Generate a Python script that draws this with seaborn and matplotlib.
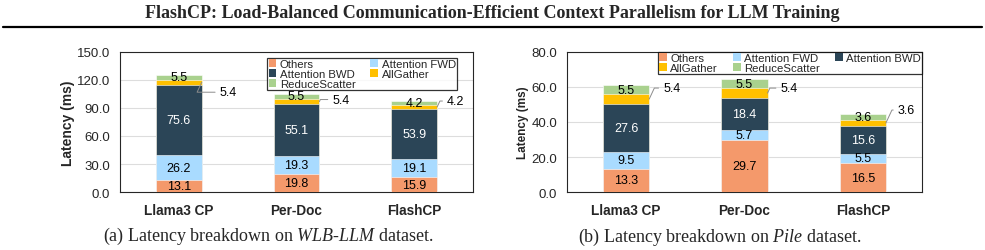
import numpy as np
import pandas as pd
import matplotlib
matplotlib.use("Agg")
import matplotlib.pyplot as plt
import seaborn as sns
from matplotlib.patches import Patch

# ---- data ----
methods = ["Llama3 CP", "Per-Doc", "FlashCP"]
components = ["Others", "Attention FWD", "Attention BWD", "AllGather", "ReduceScatter"]

wlb_others = [13.1, 19.8, 15.9]
wlb_fwd = [26.2, 19.3, 19.1]
wlb_bwd = [75.6, 55.1, 53.9]
wlb_allgather = [5.4, 5.4, 4.2]
wlb_reducescatter = [5.5, 5.5, 4.2]

pile_others = [13.3, 29.7, 16.5]
pile_fwd = [9.5, 5.7, 5.5]
pile_bwd = [27.6, 18.4, 15.6]
pile_allgather = [5.4, 5.4, 3.6]
pile_reducescatter = [5.5, 5.5, 3.6]

colors = ["#F4996B", "#A9DBFF", "#2B4557", "#FFC000", "#A9D18E"]
text_colors = ["black", "black", "white", None, "black"]

sns.set_theme(style="white")
plt.rcParams["font.family"] = ["Liberation Sans", "DejaVu Sans"]
plt.rcParams["mathtext.fontset"] = "custom"
plt.rcParams["mathtext.rm"] = "Liberation Serif"
plt.rcParams["mathtext.it"] = "Liberation Serif:italic"


def draw_panel(ax, layers, ylim, yticks, label_offsets, legend_order, ncol, legend_anchor, ylab_size):
    df = pd.DataFrame({"method": methods})
    cum = np.zeros(len(methods))
    cums = []
    for vals in layers:
        cum = cum + np.array(vals)
        cums.append(cum.copy())
    # draw from top layer down so lower layers cover upper ones
    for i in reversed(range(len(layers))):
        df["val"] = cums[i]
        sns.barplot(data=df, x="method", y="val", color=colors[i], width=0.39,
                    saturation=1, ax=ax, zorder=3, edgecolor="white", linewidth=0.4)
    ax.set_ylim(*ylim)
    ax.set_yticks(yticks)
    ax.set_yticklabels([f"{t:.1f}" for t in yticks], fontsize=9.5)
    ax.set_xlim(-0.5, 2.5)
    ax.set_xticks(range(len(methods)))
    ax.set_xticklabels(methods, fontsize=9.8, fontweight="bold")
    ax.set_xlabel("")
    ax.set_ylabel("Latency (ms)", fontsize=ylab_size, fontweight="bold", labelpad=1.5)
    ax.yaxis.grid(True, color="#DDDDDD", lw=0.8, zorder=0)
    ax.set_axisbelow(True)
    ax.tick_params(axis="y", length=0, pad=7)
    ax.tick_params(axis="x", length=0, pad=8)
    for sp in ax.spines.values():
        sp.set_visible(True)
        sp.set_color("#262626")
        sp.set_linewidth(0.8)

    # segment labels
    for i, vals in enumerate(layers):
        for j, v in enumerate(vals):
            mid = cums[i][j] - v / 2
            if i == 3:
                ax.annotate(f"{v:.1f}", xy=(j + 0.195, mid), xytext=label_offsets[j],
                            textcoords="offset pixels", ha="left", va="center",
                            fontsize=9, color="black",
                            arrowprops=dict(arrowstyle="-", color="#8C8C8C", lw=0.7,
                                            shrinkA=1, shrinkB=0,
                                            connectionstyle="angle,angleA=0,angleB=65,rad=0"))
            else:
                ax.text(j, mid, f"{v:.1f}", ha="center", va="center",
                        fontsize=9, color=text_colors[i], zorder=5)

    handles = [Patch(facecolor=colors[k], edgecolor="none", label=components[k]) for k in legend_order]
    leg = ax.legend(handles=handles, ncol=ncol, loc="upper right", bbox_to_anchor=legend_anchor,
                    fontsize=8.2, frameon=True, fancybox=False, handlelength=0.7,
                    handleheight=0.7, handletextpad=0.3, columnspacing=1.3,
                    labelspacing=0.0, borderpad=0.1, borderaxespad=0)
    leg.get_frame().set_edgecolor("black")
    leg.get_frame().set_linewidth(0.9)


fig = plt.figure(figsize=(9.85, 2.51), dpi=100)

ax1 = fig.add_axes([0.1218, 0.231, 0.3584, 0.558])
draw_panel(ax1, [wlb_others, wlb_fwd, wlb_bwd, wlb_allgather, wlb_reducescatter],
           (0, 150), [0, 30, 60, 90, 120, 150],
           [(18, -10), (13, 2), (10, 6)], [0, 2, 4, 1, 3], 2, (0.955, 0.96), 10)

ax2 = fig.add_axes([0.5756, 0.231, 0.3604, 0.558])
draw_panel(ax2, [pile_others, pile_fwd, pile_bwd, pile_allgather, pile_reducescatter],
           (0, 80), [0, 20, 40, 60, 80],
           [(14, 11), (13, 5), (12, 13)], [0, 3, 1, 4, 2], 3, (1.0, 1.0), 8.5)

# page header and captions
fig.text(0.5, 1 - 14 / 251, "FlashCP: Load-Balanced Communication-Efficient Context Parallelism for LLM Training",
         ha="center", va="center", fontsize=13, fontweight="bold", family="Liberation Serif")
fig.add_artist(plt.Line2D([0.003, 0.997], [1 - 28 / 251] * 2, color="black", lw=1.6))
fig.text(268 / 985, 1 - 236 / 251, r"(a) Latency breakdown on $WLB$-$LLM$ dataset.",
         ha="center", va="center", fontsize=13, family="Liberation Serif")
fig.text(720 / 985, 1 - 237 / 251, r"(b) Latency breakdown on $Pile$ dataset.",
         ha="center", va="center", fontsize=13, family="Liberation Serif")

fig.savefig("out.png", dpi=100)
